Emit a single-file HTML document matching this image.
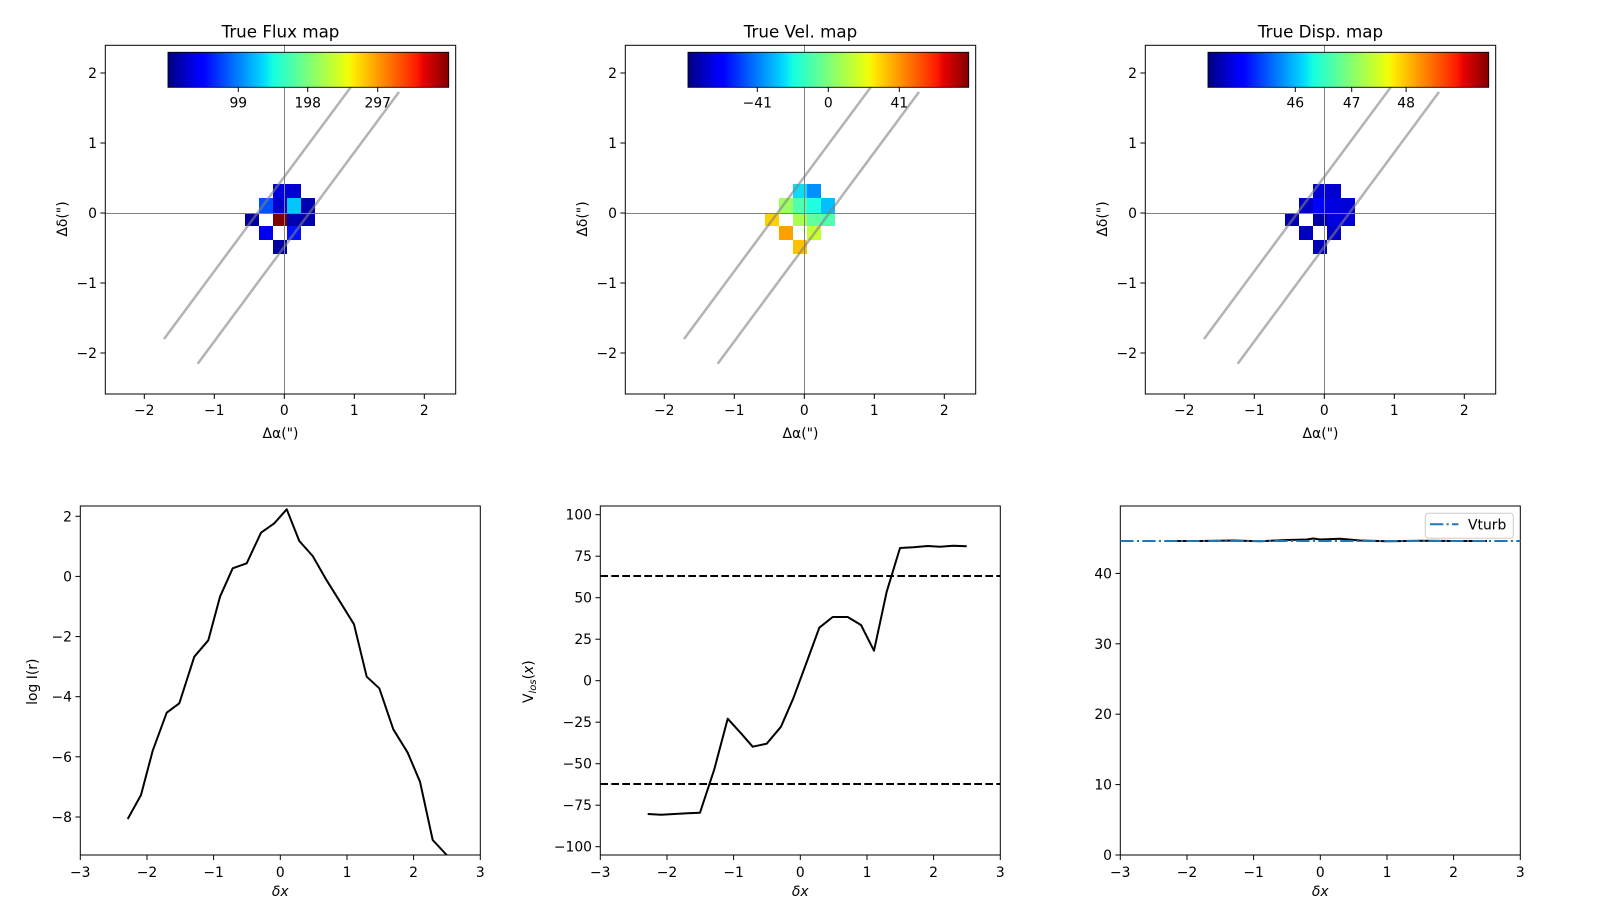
<!DOCTYPE html>
<html><head><meta charset="utf-8"><style>
html,body{margin:0;padding:0;background:#fff}
svg{display:block}
text{font-family:"DejaVu Sans","Liberation Sans",sans-serif;fill:#000}
</style></head><body>
<svg width="1600" height="900" viewBox="0 0 1600 900" xmlns="http://www.w3.org/2000/svg">
<defs>
<linearGradient id="jet" x1="0" x2="1" y1="0" y2="0">
<stop offset="0" stop-color="#00007f"/><stop offset="0.11" stop-color="#0000ff"/><stop offset="0.125" stop-color="#0000ff"/>
<stop offset="0.34" stop-color="#00dbff"/><stop offset="0.375" stop-color="#14ffe2"/><stop offset="0.5" stop-color="#7dff7a"/>
<stop offset="0.64" stop-color="#eeff08"/><stop offset="0.66" stop-color="#ffec00"/><stop offset="0.89" stop-color="#ff1700"/>
<stop offset="0.91" stop-color="#e80000"/><stop offset="1" stop-color="#800000"/>
</linearGradient>
<clipPath id="cb"><rect x="80.3" y="506" width="400" height="349"/></clipPath>
</defs>

<g id="top1">
<text x="280.5" y="37.5" font-size="16.7" text-anchor="middle">True Flux map</text>
<rect x="273" y="184" width="14" height="14" fill="#0000dd"/><rect x="287" y="184" width="14" height="14" fill="#0000d0"/>
<rect x="259" y="198" width="14" height="15" fill="#0050ff"/><rect x="273" y="198" width="14" height="15" fill="#0000cc"/><rect x="287" y="198" width="14" height="15" fill="#00c8ff"/><rect x="301" y="198" width="14" height="15" fill="#0000b0"/>
<rect x="245" y="213" width="14" height="13" fill="#0000a0"/><rect x="273" y="213" width="14" height="13" fill="#800000"/><rect x="287" y="213" width="14" height="13" fill="#0000b0"/><rect x="301" y="213" width="14" height="13" fill="#0000b0"/>
<rect x="259" y="226" width="14" height="14" fill="#0000ee"/><rect x="287" y="226" width="14" height="14" fill="#0010ff"/>
<rect x="273" y="240" width="14" height="14" fill="#0000a0"/>
</g>

<g id="top2">
<text x="800.5" y="37.5" font-size="16.7" text-anchor="middle">True Vel. map</text>
<rect x="793" y="184" width="14" height="14" fill="#10dcf0"/><rect x="807" y="184" width="14" height="14" fill="#0090ff"/>
<rect x="779" y="198" width="14" height="15" fill="#a0ff60"/><rect x="793" y="198" width="14" height="15" fill="#50ffb0"/><rect x="807" y="198" width="14" height="15" fill="#20ffe0"/><rect x="821" y="198" width="14" height="15" fill="#00c0ff"/>
<rect x="765" y="213" width="14" height="13" fill="#ffd000"/><rect x="793" y="213" width="14" height="13" fill="#a8ff50"/><rect x="807" y="213" width="14" height="13" fill="#60ffa0"/><rect x="821" y="213" width="14" height="13" fill="#50ffb0"/>
<rect x="779" y="226" width="14" height="14" fill="#ffa000"/><rect x="807" y="226" width="14" height="14" fill="#c8ff30"/>
<rect x="793" y="240" width="14" height="14" fill="#ffc000"/>
</g>

<g id="top3">
<text x="1320.5" y="37.5" font-size="16.7" text-anchor="middle">True Disp. map</text>
<rect x="1313" y="184" width="14" height="14" fill="#0000d8"/><rect x="1327" y="184" width="14" height="14" fill="#0000d0"/>
<rect x="1299" y="198" width="14" height="15" fill="#0000c8"/><rect x="1313" y="198" width="14" height="15" fill="#0000ff"/><rect x="1327" y="198" width="14" height="15" fill="#0000e0"/><rect x="1341" y="198" width="14" height="15" fill="#0000d8"/>
<rect x="1285" y="213" width="14" height="13" fill="#0000b0"/><rect x="1313" y="213" width="14" height="13" fill="#0000a8"/><rect x="1327" y="213" width="14" height="13" fill="#0000e0"/><rect x="1341" y="213" width="14" height="13" fill="#0000d8"/>
<rect x="1299" y="226" width="14" height="14" fill="#0000c0"/><rect x="1327" y="226" width="14" height="14" fill="#0000c8"/>
<rect x="1313" y="240" width="14" height="14" fill="#0000b8"/>
</g>

<g id="deco">
<line x1="284.5" y1="45.3" x2="284.5" y2="394" stroke="#808080" stroke-width="1"/>
<line x1="105.3" y1="213.5" x2="455.7" y2="213.5" stroke="#808080" stroke-width="1"/>
<line x1="164" y1="339" x2="365" y2="68" stroke="#808080" stroke-opacity="0.6" stroke-width="2.5"/>
<line x1="197.7" y1="363.7" x2="399" y2="92" stroke="#808080" stroke-opacity="0.6" stroke-width="2.5"/>
<rect x="168" y="52.3" width="280.7" height="35" fill="url(#jet)" stroke="#000" stroke-width="0.9"/>
<rect x="105.3" y="45.3" width="350.4" height="348.7" fill="none" stroke="#000" stroke-width="1"/>
<g stroke="#000" stroke-width="1">
<line x1="144.3" y1="394" x2="144.3" y2="399"/><line x1="214.3" y1="394" x2="214.3" y2="399"/><line x1="284.3" y1="394" x2="284.3" y2="399"/><line x1="354.3" y1="394" x2="354.3" y2="399"/><line x1="424.3" y1="394" x2="424.3" y2="399"/>
<line x1="100.4" y1="73" x2="105.3" y2="73"/><line x1="100.4" y1="143" x2="105.3" y2="143"/><line x1="100.4" y1="213" x2="105.3" y2="213"/><line x1="100.4" y1="283" x2="105.3" y2="283"/><line x1="100.4" y1="353" x2="105.3" y2="353"/>
</g>
<g font-size="13.9" text-anchor="middle">
<text x="144.3" y="415">−2</text><text x="214.3" y="415">−1</text><text x="284.3" y="415">0</text><text x="354.3" y="415">1</text><text x="424.3" y="415">2</text>
<text x="280.5" y="438">Δα(")</text>
</g>
<g font-size="13.9" text-anchor="end">
<text x="97" y="78">2</text><text x="97" y="148">1</text><text x="97" y="218">0</text><text x="97" y="288">−1</text><text x="97" y="358">−2</text>
</g>
<text transform="translate(67,219) rotate(-90)" font-size="13.9" text-anchor="middle">Δδ(")</text>
</g>
<use href="#deco" transform="translate(520,0)"/>
<use href="#deco" transform="translate(1040,0)"/>

<g stroke="#000" stroke-width="1">
<line x1="238.3" y1="87.3" x2="238.3" y2="92"/><line x1="307.7" y1="87.3" x2="307.7" y2="92"/><line x1="377.7" y1="87.3" x2="377.7" y2="92"/>
<line x1="757.3" y1="87.3" x2="757.3" y2="92"/><line x1="828.3" y1="87.3" x2="828.3" y2="92"/><line x1="899.3" y1="87.3" x2="899.3" y2="92"/>
<line x1="1295.3" y1="87.3" x2="1295.3" y2="92"/><line x1="1351.7" y1="87.3" x2="1351.7" y2="92"/><line x1="1406.1" y1="87.3" x2="1406.1" y2="92"/>
</g>
<g font-size="13.9" text-anchor="middle">
<text x="238.3" y="107.5">99</text><text x="307.7" y="107.5">198</text><text x="377.7" y="107.5">297</text>
<text x="757.3" y="107.5">−41</text><text x="828.3" y="107.5">0</text><text x="899.3" y="107.5">41</text>
<text x="1295.3" y="107.5">46</text><text x="1351.7" y="107.5">47</text><text x="1406.1" y="107.5">48</text>
</g>

<g id="bx">
<rect x="80.3" y="506" width="400" height="349" fill="none" stroke="#000" stroke-width="1"/>
<g stroke="#000" stroke-width="1">
<line x1="80.3" y1="855" x2="80.3" y2="860"/><line x1="147" y1="855" x2="147" y2="860"/><line x1="213.6" y1="855" x2="213.6" y2="860"/><line x1="280.3" y1="855" x2="280.3" y2="860"/><line x1="347" y1="855" x2="347" y2="860"/><line x1="413.6" y1="855" x2="413.6" y2="860"/><line x1="480.3" y1="855" x2="480.3" y2="860"/>
</g>
<g font-size="13.9" text-anchor="middle">
<text x="80.3" y="877">−3</text><text x="147" y="877">−2</text><text x="213.6" y="877">−1</text><text x="280.3" y="877">0</text><text x="347" y="877">1</text><text x="413.6" y="877">2</text><text x="480.3" y="877">3</text>
<text x="280.3" y="896" font-style="italic">δx</text>
</g>
</g>
<use href="#bx" transform="translate(520,0)"/>
<use href="#bx" transform="translate(1040,0)"/>

<g stroke="#000" stroke-width="1">
<line x1="75.4" y1="516.3" x2="80.3" y2="516.3"/><line x1="75.4" y1="576.4" x2="80.3" y2="576.4"/><line x1="75.4" y1="636.6" x2="80.3" y2="636.6"/><line x1="75.4" y1="696.7" x2="80.3" y2="696.7"/><line x1="75.4" y1="756.8" x2="80.3" y2="756.8"/><line x1="75.4" y1="817" x2="80.3" y2="817"/>
</g>
<g font-size="13.9" text-anchor="end">
<text x="72" y="521.3">2</text><text x="72" y="581.4">0</text><text x="72" y="641.6">−2</text><text x="72" y="701.7">−4</text><text x="72" y="761.8">−6</text><text x="72" y="822">−8</text>
</g>
<text transform="translate(37,681.7) rotate(-90)" font-size="13.9" text-anchor="middle">log I(r)</text>
<polyline clip-path="url(#cb)" fill="none" stroke="#000" stroke-width="2" stroke-linejoin="round" points="127.7,819 141,795 152.7,750.7 166.7,712.7 179.3,703.3 194.3,656.7 208.3,640.3 220,596.7 232.7,568.3 246.7,563.3 261,532.7 274.3,523.3 286.7,509.3 299.3,541 312.7,556 326,579.3 340,601.7 354,624.3 366.7,676.7 379.3,688.3 393.3,729.3 407.7,752.7 420,781.7 432.7,840 446.7,855 455,865"/>

<g stroke="#000" stroke-width="1">
<line x1="595.4" y1="514.7" x2="600.3" y2="514.7"/><line x1="595.4" y1="556.2" x2="600.3" y2="556.2"/><line x1="595.4" y1="597.7" x2="600.3" y2="597.7"/><line x1="595.4" y1="639.2" x2="600.3" y2="639.2"/><line x1="595.4" y1="680.7" x2="600.3" y2="680.7"/><line x1="595.4" y1="722.2" x2="600.3" y2="722.2"/><line x1="595.4" y1="763.7" x2="600.3" y2="763.7"/><line x1="595.4" y1="805.2" x2="600.3" y2="805.2"/><line x1="595.4" y1="846.7" x2="600.3" y2="846.7"/>
</g>
<g font-size="13.9" text-anchor="end">
<text x="592" y="519.7">100</text><text x="592" y="561.2">75</text><text x="592" y="602.7">50</text><text x="592" y="644.2">25</text><text x="592" y="685.7">0</text><text x="592" y="727.2">−25</text><text x="592" y="768.7">−50</text><text x="592" y="810.2">−75</text><text x="592" y="851.7">−100</text>
</g>
<text transform="translate(533,681.7) rotate(-90)" font-size="13.9" text-anchor="middle">V<tspan font-style="italic" font-size="10" dy="3">los</tspan><tspan dy="-3">(</tspan><tspan font-style="italic">x</tspan>)</text>
<line x1="600.3" y1="576" x2="1000.3" y2="576" stroke="#000" stroke-width="2" stroke-dasharray="7.7,3.3"/>
<line x1="600.3" y1="784" x2="1000.3" y2="784" stroke="#000" stroke-width="2" stroke-dasharray="7.7,3.3"/>
<polyline fill="none" stroke="#000" stroke-width="2" stroke-linejoin="round" points="647.7,814 661,814.7 674.3,814 687.7,813.3 700,812.7 714.3,769.3 727.7,718.7 741,733.3 752.7,746.7 766.7,743.7 781,726.7 793.3,698.3 806,664 819.3,627.7 832.7,617 847.7,617 861,625 874,650.7 886.7,591.7 900,548 913.3,547.3 927.7,546 940,546.7 953.3,545.7 966.7,546.3"/>

<g stroke="#000" stroke-width="1">
<line x1="1115.4" y1="855" x2="1120.3" y2="855"/><line x1="1115.4" y1="784.6" x2="1120.3" y2="784.6"/><line x1="1115.4" y1="714.2" x2="1120.3" y2="714.2"/><line x1="1115.4" y1="643.8" x2="1120.3" y2="643.8"/><line x1="1115.4" y1="573.4" x2="1120.3" y2="573.4"/>
</g>
<g font-size="13.9" text-anchor="end">
<text x="1112" y="860">0</text><text x="1112" y="789.6">10</text><text x="1112" y="719.2">20</text><text x="1112" y="648.8">30</text><text x="1112" y="578.4">40</text>
</g>
<polyline fill="none" stroke="#000" stroke-width="2" stroke-linejoin="round" points="1167,541 1200,541 1233,540.5 1260,541.2 1287,540 1307,539.5 1313,538.5 1320,539.5 1340,538.8 1360,540.5 1387,541.3 1420,540.8 1453,541 1487,541"/>
<line x1="1120.3" y1="541" x2="1520.3" y2="541" stroke="#1f77b4" stroke-width="2" stroke-dasharray="13.3,3.3,2.1,3.3"/>
<rect x="1425.3" y="513.3" width="88" height="25" rx="3" fill="#fff" fill-opacity="0.8" stroke="#cccccc" stroke-width="1"/>
<line x1="1430" y1="524.3" x2="1458.3" y2="524.3" stroke="#1f77b4" stroke-width="2" stroke-dasharray="13.3,3.3,2.1,3.3"/>
<text x="1468" y="529.3" font-size="13.9">Vturb</text>
</svg>
</body></html>
